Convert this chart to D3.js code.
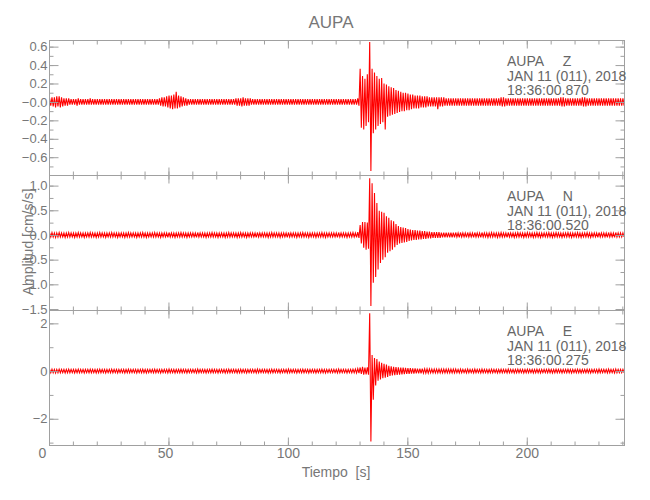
<!DOCTYPE html>
<html><head><meta charset="utf-8">
<script src="https://cdn.jsdelivr.net/npm/d3@7"></script>
<style>
body{margin:0;background:#fff}
svg{display:block}
text{font-family:"Liberation Sans Narrow","Liberation Sans",sans-serif}
</style>
</head><body>
<svg id="c" width="650" height="500"></svg>
<script>
// ---------------- data ----------------
const title = "AUPA";
const station = "AUPA";
const components = ["Z", "N", "E"];
const dateLabel = "JAN 11 (011), 2018";
const startTimes = ["18:36:00.870", "18:36:00.520", "18:36:00.275"];
const xLabel = "Tiempo  [s]";
const yLabel = "Amplitud [cm/s/s]";

const xDomain = [0, 240.7];
const xTicks = [0, 50, 100, 150, 200];
const xTickLabels = ["0", "50", "100", "150", "200"];
const xMinorTicks = [0,10,20,30,40,50,60,70,80,90,100,110,120,130,140,150,160,170,180,190,200,210,220,230,240];

const zDomain = [-0.793, 0.672];
const zTicks = [0.6, 0.4, 0.2, 0.0, -0.2, -0.4, -0.6];
const zTickLabels = ["0.6", "0.4", "0.2", "\u22120.0", "\u22120.2", "\u22120.4", "\u22120.6"];
const zMinorTicks = [0.6,0.5,0.4,0.3,0.2,0.1,0,-0.1,-0.2,-0.3,-0.4,-0.5,-0.6,-0.7];

const nDomain = [-1.52, 1.215];
const nTicks = [1.0, 0.5, 0.0, -0.5, -1.0, -1.5];
const nTickLabels = ["1.0", "0.5", "0.0", "\u22120.5", "\u22121.0", "\u22121.5"];
const nMinorTicks = [1.0,0.75,0.5,0.25,0,-0.25,-0.5,-0.75,-1.0,-1.25,-1.5];

const eDomain = [-3.1, 2.56];
const eTicks = [2, 0, -2];
const eTickLabels = ["2", "0", "\u22122"];
const eMinorTicks = [2, 1, 0, -1, -2, -3];

// per-second envelope (max / min in each 1 s bin), t = 0 .. 240 s
const zHi = [
 .04,.05,.05,.06,.06,.05,.04,.04,.04,.03,
 .03,.03,.04,.03,.03,.03,.03,.04,.03,.03,
 .03,.03,.03,.03,.03,.03,.03,.03,.03,.03,
 .03,.03,.03,.03,.03,.03,.03,.03,.03,.03,
 .03,.03,.03,.03,.03,.03,.04,.05,.05,.06,
 .07,.07,.08,.11,.07,.06,.05,.04,.03,.03,
 .03,.03,.03,.03,.03,.03,.03,.03,.03,.03,
 .03,.03,.03,.03,.03,.03,.03,.03,.04,.04,
 .04,.05,.04,.04,.04,.03,.03,.03,.03,.03,
 .03,.03,.03,.03,.03,.03,.03,.03,.03,.03,
 .03,.03,.03,.03,.03,.03,.03,.03,.03,.03,
 .03,.03,.03,.03,.03,.03,.03,.03,.03,.03,
 .03,.03,.03,.03,.03,.03,.03,.03,.03,.04,
 .36,.28,.25,.30,.65,.36,.32,.28,.25,.26,
 .20,.19,.17,.16,.15,.13,.12,.11,.10,.10,
 .09,.08,.08,.07,.07,.07,.06,.06,.06,.05,
 .05,.05,.05,.05,.05,.05,.04,.04,.04,.04,
 .04,.04,.04,.04,.04,.04,.04,.04,.04,.04,
 .04,.04,.04,.04,.04,.04,.04,.04,.04,.05,
 .05,.04,.04,.04,.04,.04,.04,.04,.04,.04,
 .04,.04,.04,.04,.04,.04,.04,.04,.04,.04,
 .04,.04,.04,.04,.05,.05,.04,.04,.04,.04,
 .04,.04,.04,.05,.05,.04,.04,.04,.04,.04,
 .04,.04,.04,.04,.04,.04,.04,.04,.04,.04,.04];
const zLo = [
 -.04,-.05,-.06,-.05,-.06,-.05,-.04,-.04,-.03,-.03,
 -.03,-.04,-.03,-.03,-.03,-.03,-.03,-.03,-.03,-.03,
 -.03,-.03,-.03,-.03,-.03,-.03,-.03,-.03,-.03,-.03,
 -.03,-.03,-.03,-.03,-.03,-.03,-.03,-.03,-.03,-.03,
 -.03,-.03,-.03,-.03,-.03,-.03,-.04,-.05,-.05,-.06,
 -.07,-.08,-.07,-.07,-.06,-.05,-.04,-.04,-.03,-.03,
 -.03,-.03,-.03,-.03,-.03,-.03,-.03,-.03,-.03,-.03,
 -.03,-.03,-.03,-.03,-.03,-.03,-.03,-.03,-.04,-.04,
 -.05,-.04,-.04,-.04,-.03,-.03,-.03,-.03,-.03,-.03,
 -.03,-.03,-.03,-.03,-.03,-.03,-.03,-.03,-.03,-.03,
 -.03,-.03,-.03,-.03,-.03,-.03,-.03,-.03,-.03,-.03,
 -.03,-.03,-.03,-.03,-.03,-.03,-.03,-.03,-.03,-.03,
 -.03,-.03,-.03,-.03,-.03,-.03,-.03,-.03,-.03,-.04,
 -.28,-.30,-.26,-.22,-.75,-.34,-.30,-.26,-.24,-.22,
 -.30,-.16,-.15,-.14,-.13,-.12,-.11,-.10,-.10,-.09,
 -.09,-.08,-.07,-.07,-.07,-.06,-.06,-.06,-.05,-.05,
 -.05,-.05,-.08,-.05,-.05,-.04,-.04,-.04,-.04,-.04,
 -.04,-.04,-.04,-.04,-.04,-.04,-.04,-.04,-.04,-.04,
 -.04,-.04,-.04,-.04,-.04,-.04,-.04,-.04,-.04,-.05,
 -.05,-.04,-.04,-.04,-.04,-.04,-.04,-.04,-.04,-.04,
 -.04,-.04,-.04,-.04,-.04,-.04,-.04,-.04,-.04,-.04,
 -.04,-.04,-.04,-.04,-.05,-.05,-.04,-.04,-.04,-.04,
 -.04,-.04,-.04,-.05,-.05,-.04,-.04,-.04,-.04,-.04,
 -.04,-.04,-.04,-.04,-.04,-.04,-.04,-.04,-.04,-.04,-.04];

const nHi = [
 .04,.05,.04,.04,.05,.04,.04,.04,.05,.04,
 .04,.04,.05,.04,.04,.04,.04,.05,.04,.04,
 .04,.05,.04,.04,.04,.04,.05,.04,.04,.04,
 .04,.04,.04,.05,.04,.04,.04,.04,.04,.05,
 .04,.04,.04,.04,.05,.04,.04,.04,.04,.04,
 .05,.04,.04,.04,.04,.05,.04,.04,.04,.04,
 .04,.04,.05,.04,.04,.04,.04,.04,.05,.04,
 .04,.04,.04,.04,.04,.05,.04,.04,.04,.04,
 .05,.04,.04,.04,.04,.04,.04,.05,.04,.04,
 .04,.04,.04,.05,.04,.04,.04,.04,.04,.04,
 .05,.04,.04,.04,.04,.04,.05,.04,.04,.04,
 .04,.04,.04,.04,.05,.04,.04,.04,.04,.04,
 .04,.05,.04,.04,.04,.04,.04,.05,.04,.06,
 .20,.26,.26,.25,1.15,1.05,.85,.65,.49,.47,
 .45,.38,.35,.30,.28,.22,.18,.16,.15,.14,
 .12,.11,.10,.10,.09,.09,.08,.08,.07,.07,
 .06,.06,.06,.06,.05,.05,.05,.05,.05,.05,
 .05,.04,.05,.04,.04,.05,.04,.04,.05,.04,
 .04,.05,.04,.04,.04,.05,.04,.04,.04,.05,
 .04,.04,.05,.04,.04,.04,.05,.04,.04,.04,
 .05,.04,.04,.04,.05,.04,.04,.04,.04,.05,
 .04,.04,.05,.04,.04,.04,.04,.05,.04,.04,
 .04,.05,.04,.04,.04,.05,.04,.04,.04,.04,
 .05,.04,.04,.04,.05,.04,.04,.05,.04,.04,.04];
const nLo = [
 -.04,-.04,-.05,-.04,-.04,-.04,-.05,-.04,-.04,-.04,
 -.05,-.04,-.04,-.04,-.05,-.04,-.04,-.04,-.04,-.05,
 -.04,-.04,-.04,-.05,-.04,-.04,-.04,-.04,-.05,-.04,
 -.04,-.05,-.04,-.04,-.04,-.04,-.05,-.04,-.04,-.04,
 -.05,-.04,-.04,-.04,-.04,-.04,-.05,-.04,-.04,-.05,
 -.04,-.04,-.05,-.04,-.04,-.04,-.04,-.05,-.04,-.04,
 -.04,-.05,-.04,-.04,-.04,-.05,-.04,-.04,-.04,-.04,
 -.05,-.04,-.04,-.05,-.04,-.04,-.04,-.04,-.05,-.04,
 -.04,-.04,-.05,-.04,-.04,-.04,-.05,-.04,-.04,-.04,
 -.04,-.05,-.04,-.04,-.04,-.04,-.05,-.04,-.04,-.05,
 -.04,-.04,-.04,-.05,-.04,-.04,-.04,-.04,-.05,-.04,
 -.04,-.05,-.04,-.04,-.04,-.05,-.04,-.04,-.04,-.04,
 -.05,-.04,-.04,-.04,-.05,-.04,-.04,-.04,-.05,-.06,
 -.17,-.26,-.30,-.28,-1.44,-.97,-.85,-.70,-.57,-.50,
 -.45,-.36,-.33,-.30,-.25,-.20,-.17,-.16,-.15,-.14,
 -.12,-.11,-.10,-.10,-.09,-.09,-.08,-.08,-.07,-.07,
 -.06,-.06,-.06,-.06,-.05,-.05,-.05,-.05,-.05,-.05,
 -.04,-.05,-.04,-.04,-.05,-.04,-.04,-.05,-.04,-.04,
 -.05,-.04,-.04,-.05,-.04,-.04,-.04,-.05,-.04,-.04,
 -.04,-.05,-.04,-.04,-.05,-.04,-.04,-.04,-.05,-.04,
 -.04,-.04,-.05,-.04,-.04,-.05,-.04,-.04,-.04,-.04,
 -.05,-.04,-.04,-.04,-.05,-.04,-.04,-.04,-.05,-.04,
 -.04,-.04,-.05,-.04,-.04,-.04,-.05,-.04,-.04,-.05,
 -.04,-.04,-.04,-.05,-.04,-.04,-.05,-.04,-.04,-.04,-.04];

const eHi = [
 .07,.08,.07,.07,.08,.07,.07,.07,.08,.07,
 .07,.07,.08,.07,.07,.07,.07,.08,.07,.07,
 .07,.08,.07,.07,.07,.07,.08,.07,.07,.07,
 .07,.07,.07,.08,.07,.07,.07,.07,.07,.08,
 .07,.07,.07,.07,.08,.07,.07,.07,.07,.07,
 .08,.07,.07,.07,.07,.08,.07,.07,.07,.07,
 .07,.07,.08,.07,.07,.07,.07,.07,.08,.07,
 .07,.07,.07,.07,.07,.08,.07,.07,.07,.07,
 .08,.07,.07,.07,.07,.07,.07,.08,.07,.07,
 .07,.07,.07,.08,.07,.07,.07,.07,.07,.07,
 .08,.07,.07,.07,.07,.07,.08,.07,.07,.07,
 .07,.07,.07,.07,.08,.07,.07,.07,.07,.07,
 .07,.08,.07,.07,.07,.07,.07,.08,.08,.10,
 .15,.18,.15,.16,2.42,.67,.55,.50,.40,.35,
 .30,.27,.22,.20,.18,.17,.16,.15,.14,.13,
 .12,.12,.11,.11,.10,.10,.10,.09,.09,.09,
 .08,.08,.08,.08,.08,.08,.08,.08,.08,.08,
 .08,.07,.08,.07,.07,.08,.07,.07,.08,.07,
 .07,.08,.07,.07,.07,.08,.07,.07,.07,.08,
 .07,.07,.08,.07,.07,.07,.08,.07,.07,.07,
 .08,.07,.07,.07,.08,.07,.07,.07,.07,.08,
 .07,.07,.08,.07,.07,.07,.07,.08,.07,.07,
 .07,.08,.07,.07,.07,.08,.07,.07,.07,.07,
 .08,.07,.07,.07,.08,.07,.07,.08,.07,.07,.07];
const eLo = [
 -.07,-.07,-.08,-.07,-.07,-.07,-.08,-.07,-.07,-.07,
 -.08,-.07,-.07,-.07,-.08,-.07,-.07,-.07,-.07,-.08,
 -.07,-.07,-.07,-.08,-.07,-.07,-.07,-.07,-.08,-.07,
 -.07,-.08,-.07,-.07,-.07,-.07,-.08,-.07,-.07,-.07,
 -.08,-.07,-.07,-.07,-.07,-.07,-.08,-.07,-.07,-.08,
 -.07,-.07,-.08,-.07,-.07,-.07,-.07,-.08,-.07,-.07,
 -.07,-.08,-.07,-.07,-.07,-.08,-.07,-.07,-.07,-.07,
 -.08,-.07,-.07,-.08,-.07,-.07,-.07,-.07,-.08,-.07,
 -.07,-.07,-.08,-.07,-.07,-.07,-.08,-.07,-.07,-.07,
 -.07,-.08,-.07,-.07,-.07,-.07,-.08,-.07,-.07,-.08,
 -.07,-.07,-.07,-.08,-.07,-.07,-.07,-.07,-.08,-.07,
 -.07,-.08,-.07,-.07,-.07,-.08,-.07,-.07,-.07,-.07,
 -.08,-.07,-.07,-.07,-.08,-.07,-.07,-.07,-.08,-.09,
 -.12,-.15,-.14,-.15,-2.95,-1.20,-.60,-.40,-.35,-.30,
 -.28,-.25,-.20,-.18,-.17,-.16,-.15,-.14,-.13,-.12,
 -.12,-.11,-.11,-.10,-.10,-.10,-.09,-.09,-.09,-.08,
 -.08,-.08,-.08,-.08,-.08,-.08,-.08,-.08,-.08,-.08,
 -.07,-.08,-.07,-.07,-.08,-.07,-.07,-.08,-.07,-.07,
 -.08,-.07,-.07,-.08,-.07,-.07,-.07,-.08,-.07,-.07,
 -.07,-.08,-.07,-.07,-.08,-.07,-.07,-.07,-.08,-.07,
 -.07,-.07,-.08,-.07,-.07,-.08,-.07,-.07,-.07,-.07,
 -.08,-.07,-.07,-.07,-.08,-.07,-.07,-.07,-.08,-.07,
 -.07,-.07,-.08,-.07,-.07,-.07,-.08,-.07,-.07,-.08,
 -.07,-.07,-.07,-.08,-.07,-.07,-.08,-.07,-.07,-.07,-.07];

// ---------------- layout / drawing ----------------
const axisColor = "#a0a0a0";
const textColor = "#777777";
const traceColor = "#ff0000";
const plotLeft = 49, plotRight = 624;
const panelTops = [40, 175, 310];
const panelH = 135;
const tickFont = 13;

const panels = [
  {dom: zDomain, ticks: zTicks, labels: zTickLabels, minor: zMinorTicks, hi: zHi, lo: zLo},
  {dom: nDomain, ticks: nTicks, labels: nTickLabels, minor: nMinorTicks, hi: nHi, lo: nLo},
  {dom: eDomain, ticks: eTicks, labels: eTickLabels, minor: eMinorTicks, hi: eHi, lo: eLo}
];

const svg = d3.select("#c");
svg.append("rect").attr("width", 650).attr("height", 500).attr("fill", "#fff");

const x = d3.scaleLinear().domain(xDomain).range([plotLeft, plotRight]);

function styleAxis(g) {
  g.select(".domain").remove();
  g.selectAll(".tick line").attr("stroke", axisColor).attr("stroke-width", 1);
  g.selectAll(".tick text").attr("fill", textColor).attr("font-size", tickFont)
    .attr("font-family", '"Liberation Sans Narrow","Liberation Sans",sans-serif');
}

panels.forEach((p, k) => {
  const top = panelTops[k], bottom = top + panelH;
  const y = d3.scaleLinear().domain(p.dom).range([bottom, top]);
  const g = svg.append("g");

  const clipId = "clip" + k;
  svg.append("clipPath").attr("id", clipId).append("rect")
    .attr("x", plotLeft).attr("y", top).attr("width", plotRight - plotLeft).attr("height", panelH);

  // trace: per bin, max then min
  const n = Math.min(p.hi.length, p.lo.length);
  const pts = [];
  for (let i = 0; i < n; i++) {
    pts.push([i + 0.25, p.hi[i]]);
    pts.push([i + 0.75, p.lo[i]]);
  }
  const line = d3.line().x(d => x(d[0])).y(d => y(d[1]));
  g.append("path").attr("d", line(pts)).attr("fill", "none")
    .attr("stroke", traceColor).attr("stroke-width", 1.1)
    .attr("stroke-linejoin", "miter").attr("clip-path", `url(#${clipId})`);

  // frame
  g.append("rect").attr("x", plotLeft + 0.5).attr("y", top + 0.5)
    .attr("width", plotRight - plotLeft).attr("height", panelH)
    .attr("fill", "none").attr("stroke", axisColor);

  const yMinor = p.minor.filter(v => v >= p.dom[0] && v <= p.dom[1]);
  // left axis
  g.append("g").attr("transform", `translate(${plotLeft + 0.5},0)`)
    .call(d3.axisLeft(y).tickValues(yMinor).tickSize(-4).tickFormat("")).call(styleAxis);
  g.append("g").attr("transform", `translate(${plotLeft + 0.5},0)`)
    .call(d3.axisLeft(y).tickValues(p.ticks).tickSize(-9).tickPadding(2)
      .tickFormat((d, i) => p.labels[i])).call(styleAxis);
  // right axis
  g.append("g").attr("transform", `translate(${plotRight + 0.5},0)`)
    .call(d3.axisRight(y).tickValues(yMinor).tickSize(-4).tickFormat("")).call(styleAxis);
  g.append("g").attr("transform", `translate(${plotRight + 0.5},0)`)
    .call(d3.axisRight(y).tickValues(p.ticks).tickSize(-9).tickFormat("")).call(styleAxis);
  // top axis
  g.append("g").attr("transform", `translate(0,${top + 0.5})`)
    .call(d3.axisTop(x).tickValues(xMinorTicks).tickSize(-4).tickFormat("")).call(styleAxis);
  g.append("g").attr("transform", `translate(0,${top + 0.5})`)
    .call(d3.axisTop(x).tickValues(xTicks).tickSize(-8).tickFormat("")).call(styleAxis);
  // bottom axis
  g.append("g").attr("transform", `translate(0,${bottom + 0.5})`)
    .call(d3.axisBottom(x).tickValues(xMinorTicks).tickSize(-4).tickFormat("")).call(styleAxis);
  const last = k === panels.length - 1;
  const bx = g.append("g").attr("transform", `translate(0,${bottom + 0.5})`)
    .call(d3.axisBottom(x).tickValues(xTicks).tickSize(-8).tickPadding(3)
      .tickFormat((d, i) => last ? xTickLabels[i] : "")).call(styleAxis);
  if (last) {
    bx.selectAll(".tick text").attr("font-size", 14)
      .attr("dx", (d, i) => -(3 - xTickLabels[i].length) * 3.5);
  }

  // annotation
  const ann = g.append("text").attr("x", 507).attr("y", top + 26)
    .attr("fill", "#666").attr("font-size", 14).style("white-space", "pre");
  ann.append("tspan").attr("x", 507).attr("y", top + 26).text(station + "     " + components[k]);
  ann.append("tspan").attr("x", 507).attr("y", top + 40.5).text(dateLabel);
  ann.append("tspan").attr("x", 507).attr("y", top + 55).text(startTimes[k]);
});

// title & axis labels
svg.append("text").attr("x", 331).attr("y", 28).attr("text-anchor", "middle")
  .attr("fill", textColor).attr("font-size", 17).text(title);
svg.append("text").attr("x", 336).attr("y", 477).attr("text-anchor", "middle")
  .attr("fill", textColor).attr("font-size", 14).style("white-space", "pre").text(xLabel);
svg.append("text").attr("transform", "translate(33,242) rotate(-90)").attr("text-anchor", "middle")
  .attr("fill", textColor).attr("font-size", 14).style("white-space", "pre").text(yLabel);
</script>
</body></html>
